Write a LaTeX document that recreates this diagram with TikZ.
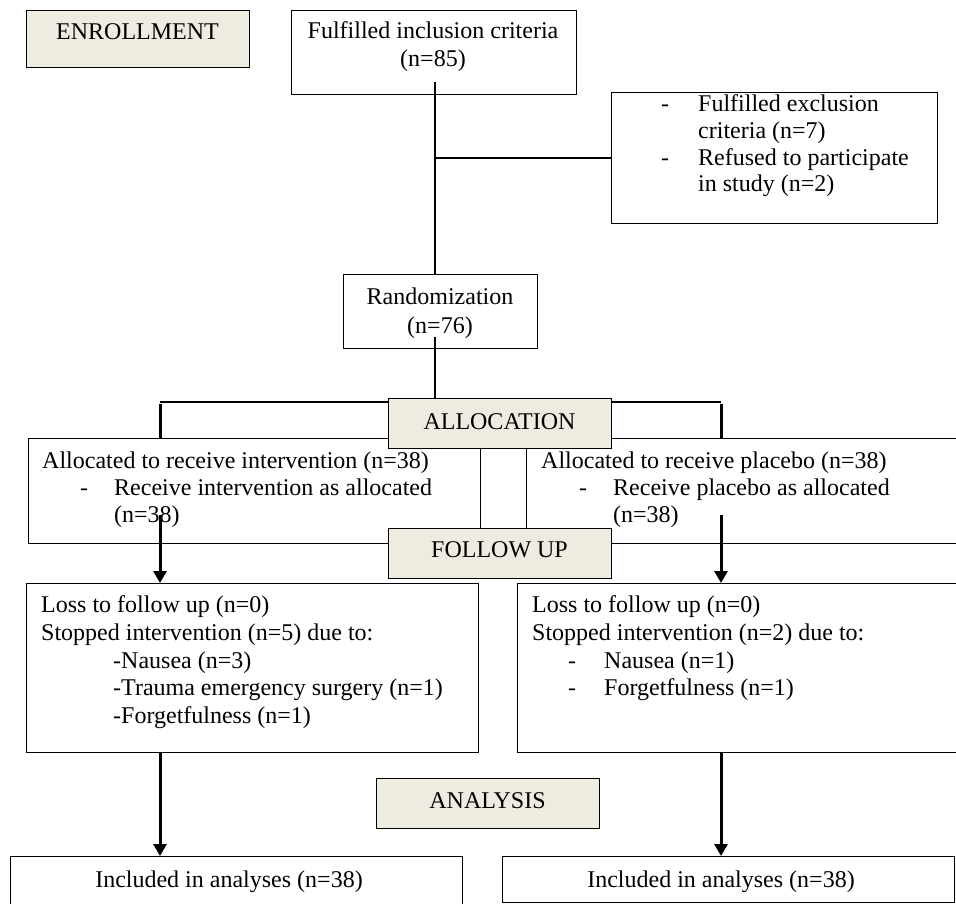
\documentclass[tikz,border=0pt]{standalone}
\usepackage{fontspec}
\setmainfont{Liberation Serif}
\usetikzlibrary{arrows.meta,backgrounds}
\definecolor{stagefill}{HTML}{EEECE1}
\begin{document}
\begin{tikzpicture}[x=1pt,y=-1pt,
  box/.style={draw, line width=1.2pt, inner sep=0pt, anchor=north west},
  stage/.style={box, fill=stagefill},
  txt/.style={inner sep=0pt, font=\fontsize{24}{27.6}\selectfont},
  thinline/.style={line width=1.2pt},
  thickline/.style={line width=3pt},
  arr/.style={thickline, -{Triangle[width=13pt,length=12pt]}},
]
\useasboundingbox (0,0) rectangle (956,904);
\clip (0,0) rectangle (956,904);

% boxes
\node[stage, minimum width=223pt, minimum height=57pt] (enr) at (26,10) {};
\node[box, minimum width=285pt, minimum height=84pt] (incl) at (291,10) {};
\node[box, minimum width=326pt, minimum height=131pt] (excl) at (611,92) {};
\node[box, minimum width=194pt, minimum height=74pt] (rand) at (343,274) {};
\node[box, minimum width=452pt, minimum height=105pt] (al1) at (28,438) {};
\node[box, minimum width=440pt, minimum height=105pt] (al2) at (526,438) {};
\node[stage, minimum width=223pt, minimum height=50pt] (alloc) at (388,398) {};
\node[stage, minimum width=223pt, minimum height=50pt] (fup) at (388,528) {};
\node[box, minimum width=452pt, minimum height=169pt] (ls1) at (26,583) {};
\node[box, minimum width=450pt, minimum height=169pt] (ls2) at (517,583) {};
\node[stage, minimum width=223pt, minimum height=50pt] (ana) at (376,778) {};
\node[box, minimum width=452pt, minimum height=48pt] (inc1) at (10,856) {};
\node[box, minimum width=452pt, minimum height=46pt] (inc2) at (502,856) {};

% texts
\node[txt, anchor=base] (tenr) at (137.5,40) {ENROLLMENT};
\node[txt, anchor=base] (tincl1) at (433,39) {Fulfilled inclusion criteria};
\node[txt, anchor=base] (tincl2) at (433,67) {(n=85)};
\node[txt, anchor=base west] (tex1) at (698,112) {Fulfilled exclusion};
\node[txt, anchor=base west] (tex2) at (698,138.7) {criteria (n=7)};
\node[txt, anchor=base west] (tex3) at (698,165.4) {Refused to participate};
\node[txt, anchor=base west] (tex4) at (698,192) {in study (n=2)};
\node[txt, anchor=base west] (dex1) at (661,112) {-};
\node[txt, anchor=base west] (dex2) at (661,165.4) {-};
\node[txt, anchor=base] (trand1) at (440,305) {Randomization};
\node[txt, anchor=base] (trand2) at (440,333) {(n=76)};
\node[txt, anchor=base] (talloc) at (499.5,429) {ALLOCATION};
\node[txt, anchor=base] (tfup) at (499.5,557) {FOLLOW UP};
\node[txt, anchor=base] (tana) at (487.5,808) {ANALYSIS};
\node[txt, anchor=base west] (ta11) at (42,468) {Allocated to receive intervention (n=38)};
\node[txt, anchor=base west] (da12) at (80,495) {-};
\node[txt, anchor=base west] (ta12) at (114,495) {Receive intervention as allocated};
\node[txt, anchor=base west] (ta13) at (114,522) {(n=38)};
\node[txt, anchor=base west] (ta21) at (541,468) {Allocated to receive placebo (n=38)};
\node[txt, anchor=base west] (da22) at (579,495) {-};
\node[txt, anchor=base west] (ta22) at (613,495) {Receive placebo as allocated};
\node[txt, anchor=base west] (ta23) at (613,522) {(n=38)};
\node[txt, anchor=base west] (tl11) at (41,612) {Loss to follow up (n=0)};
\node[txt, anchor=base west] (tl12) at (41,640) {Stopped intervention (n=5) due to:};
\node[txt, anchor=base west] (tl13) at (113,668) {-Nausea (n=3)};
\node[txt, anchor=base west] (tl14) at (113,695) {-Trauma emergency surgery (n=1)};
\node[txt, anchor=base west] (tl15) at (113,723) {-Forgetfulness (n=1)};
\node[txt, anchor=base west] (tl21) at (532,612) {Loss to follow up (n=0)};
\node[txt, anchor=base west] (tl22) at (532,640) {Stopped intervention (n=2) due to:};
\node[txt, anchor=base west] (dl23) at (568,668) {-};
\node[txt, anchor=base west] (tl23) at (604,668) {Nausea (n=1)};
\node[txt, anchor=base west] (dl24) at (568,695) {-};
\node[txt, anchor=base west] (tl24) at (604,695) {Forgetfulness (n=1)};
\node[txt, anchor=base] (ti1) at (229,887) {Included in analyses (n=38)};
\node[txt, anchor=base] (ti2) at (721,887) {Included in analyses (n=38)};

% connectors
\coordinate (spine) at (435,82);
\coordinate (splitL) at (160,402);
\coordinate (splitR) at (721,402);
\coordinate (s1) at (160,515);
\coordinate (s2) at (721,515);
\begin{scope}[on background layer]
  \draw[thinline] (spine) -- (spine |- rand.north);
  \draw[thinline] (excl.west) -- (excl.west -| spine);
  \draw[thinline] (spine |- rand.south) ++(0,-12) -- (spine |- alloc.north);
  \draw[thinline] (splitL) -- (splitR);
  \draw[thickline] ([yshift=-1.5pt]splitL) -- (splitL |- al1.north);
  \draw[thickline] ([yshift=-1.5pt]splitR) -- (splitR |- al2.north);
\end{scope}
\draw[arr] (s1) -- (s1 |- ls1.north);
\draw[arr] (s2) -- (s2 |- ls2.north);
\draw[arr] (s1 |- ls1.south) -- (s1 |- inc1.north);
\draw[arr] (s2 |- ls2.south) -- (s2 |- inc2.north);
\end{tikzpicture}
\end{document}
